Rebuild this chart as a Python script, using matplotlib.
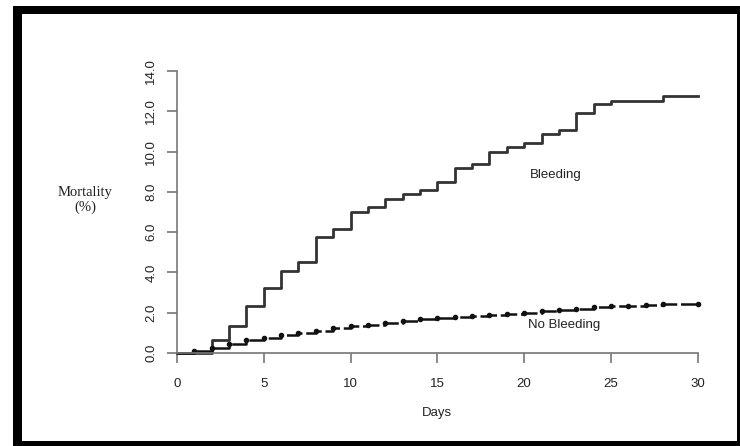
import matplotlib
matplotlib.use("Agg")
import matplotlib.pyplot as plt
from matplotlib.patches import Rectangle

# Cumulative mortality (%), step changes at each day
bleed_days = [0, 2, 3, 4, 5, 6, 7, 8, 9, 10, 11, 12, 13, 14, 15, 16, 17, 18, 19,
              20, 21, 22, 23, 24, 25, 28, 30]
bleed_mort = [0.0, 0.66, 1.32, 2.35, 3.22, 4.08, 4.5, 5.74, 6.15, 7.02, 7.24, 7.65,
              7.88, 8.07, 8.51, 9.17, 9.37, 10.0, 10.21, 10.41, 10.86, 11.07, 11.93,
              12.35, 12.53, 12.78, 12.78]

nobleed_days = [0, 1, 2, 3, 4, 5, 6, 7, 8, 9, 10, 11, 12, 13, 14, 15, 16, 17, 18,
                19, 20, 21, 22, 23, 24, 25, 26, 27, 28, 30]
nobleed_mort = [0.0, 0.08, 0.25, 0.45, 0.63, 0.76, 0.88, 0.98, 1.1, 1.22, 1.32, 1.4,
                1.49, 1.57, 1.68, 1.74, 1.79, 1.85, 1.9, 1.95, 1.98, 2.07, 2.15, 2.2,
                2.26, 2.31, 2.35, 2.38, 2.41, 2.45]

x_ticks = [0, 5, 10, 15, 20, 25, 30]
y_ticks = [0, 2, 4, 6, 8, 10, 12, 14]

fig = plt.figure(figsize=(7.4, 4.46), dpi=100)
ax = fig.add_axes([0.239, 0.2085, 0.704, 0.6323])

ax.step(bleed_days, bleed_mort, where='post', color='#333333', linewidth=2.0,
        clip_on=False)
ax.step(nobleed_days, nobleed_mort, where='post', color='#111111', linewidth=1.8,
        linestyle=(0, (7, 1.5)), clip_on=False)
ax.plot(nobleed_days[1:], nobleed_mort[1:], 'o', color='#111111', markersize=3,
        clip_on=False)

ax.set_xlim(0, 30)
ax.set_ylim(0, 14)

for s in ['top', 'right']:
    ax.spines[s].set_visible(False)
for s in ['left', 'bottom']:
    ax.spines[s].set_color('#777777')
    ax.spines[s].set_linewidth(1.2)

ax.set_xticks(x_ticks)
ax.set_xticklabels([str(v) for v in x_ticks], fontsize=9.5, family='Liberation Sans',
                   color='#222222')
ax.set_yticks(y_ticks)
ax.set_yticklabels([f"{v:.1f}" for v in y_ticks], fontsize=9.5, family='Liberation Sans',
                   rotation=90, va='center', color='#222222')
ax.tick_params(axis='both', length=7, width=1.2, color='#777777')
ax.tick_params(axis='x', pad=11)
ax.tick_params(axis='y', pad=7)

ax.text(21.8, 8.84, 'Bleeding', fontsize=9.5, family='Liberation Sans', ha='center',
        va='center', color='#222222')
ax.text(22.3, 1.39, 'No Bleeding', fontsize=9.5, family='Liberation Sans', ha='center',
        va='center', color='#222222')

fig.text(437 / 740, 1 - 413 / 446, 'Days', fontsize=9.5, family='Liberation Sans',
         ha='center', va='center', color='#222222')
fig.text(85 / 740, 1 - 200 / 446, 'Mortality\n(%)', fontsize=10.5,
         family='Liberation Serif', ha='center', va='center', color='#222222',
         linespacing=1.2)

# black frame around the figure: heavy top/left, thin right/bottom
W, H = 740, 446
frame = [(13, 6, 9, 440), (13, 6, 727, 8), (737, 6, 3, 440), (13, 441, 727, 5)]
for x0, y0, w, h in frame:
    fig.patches.append(Rectangle((x0 / W, 1 - (y0 + h) / H), w / W, h / H,
                                 transform=fig.transFigure, color='black',
                                 linewidth=0))

fig.savefig('out.png', dpi=100)
